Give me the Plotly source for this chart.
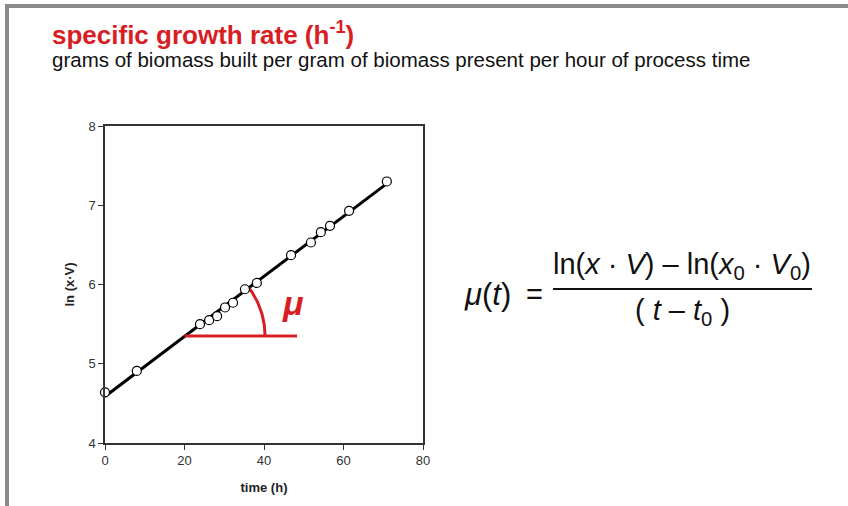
import numpy as np
import plotly.graph_objects as go

# ---- data ----
time_h = [0, 8.0, 23.9, 26.2, 28.2, 30.2, 32.2, 35.2, 38.2, 46.8, 51.8, 54.3, 56.6, 61.4, 70.9]
ln_xV = [4.64, 4.91, 5.50, 5.55, 5.60, 5.71, 5.77, 5.94, 6.02, 6.37, 6.53, 6.66, 6.74, 6.93, 7.30]
x_ticks = [0, 20, 40, 60, 80]
y_ticks = [4, 5, 6, 7, 8]
mu_ref_t = [20.0, 48.3]   # red horizontal reference line span (h)
mu_ref_y = 5.35           # red reference level

RED = "#d81e24"
FONT = "Liberation Sans, Arial, sans-serif"

# plot area in pixels
W, H = 848, 506
L, R, T, B = 105, 423, 126, 443

def px(xp):
    return (xp - L) / (R - L)

def py(yp):
    return (B - yp) / (B - T)

# linear fit through the data
slope, icpt = np.polyfit(time_h, ln_xV, 1)
fit_t = [time_h[0], time_h[-1]]
fit_y = [icpt + slope * t for t in fit_t]

# angle arc (pixel-space circle converted into data units)
sx = (R - L) / 80.0
sy = (B - T) / 4.0
t_c = (mu_ref_y - icpt) / slope
ang = np.arctan(slope * sy / sx)
a = np.linspace(0, ang, 40)
rad = 80
arc_t = t_c + rad * np.cos(a) / sx
arc_y = mu_ref_y + rad * np.sin(a) / sy

fig = go.Figure()
fig.add_trace(go.Scatter(x=fit_t, y=fit_y, mode="lines",
                         line=dict(color="black", width=3), hoverinfo="skip"))
fig.add_trace(go.Scatter(x=mu_ref_t, y=[mu_ref_y, mu_ref_y], mode="lines",
                         line=dict(color=RED, width=3), hoverinfo="skip"))
fig.add_trace(go.Scatter(x=arc_t, y=arc_y, mode="lines",
                         line=dict(color=RED, width=3), hoverinfo="skip"))
fig.add_trace(go.Scatter(x=time_h, y=ln_xV, mode="markers", cliponaxis=False,
                         marker=dict(size=9, color="white",
                                     line=dict(color="black", width=1.2))))

axis_common = dict(showgrid=False, zeroline=False, showline=True, mirror=True,
                   linecolor="#333", linewidth=1.5, ticks="outside", ticklen=5,
                   tickcolor="#333", tickfont=dict(family=FONT, size=13, color="#333"))
fig.update_xaxes(range=[0, 80], tickvals=x_ticks, **axis_common,
                 title=dict(text="<b>time (h)</b>", font=dict(family=FONT, size=13, color="#222"),
                            standoff=16))
fig.update_yaxes(range=[4, 8], tickvals=y_ticks, **axis_common,
                 title=dict(text="<b>ln (x·V)</b>", font=dict(family=FONT, size=13, color="#222"),
                            standoff=11))

ann = []
# title + subtitle
ann.append(dict(xref="paper", yref="paper", x=px(50), y=py(33), xanchor="left", yanchor="middle",
                text="<b>specific growth rate (h<sup>-1</sup>)</b>", showarrow=False,
                font=dict(family=FONT, size=26, color=RED)))
ann.append(dict(xref="paper", yref="paper", x=px(50), y=py(59), xanchor="left", yanchor="middle",
                text="grams of biomass built per gram of biomass present per hour of process time",
                showarrow=False, font=dict(family=FONT, size=20.5, color="#111")))
# mu label
ann.append(dict(xref="x", yref="y", x=47.3, y=5.77, text="<b><i>μ</i></b>", showarrow=False,
                xanchor="center", yanchor="middle",
                font=dict(family=FONT, size=34, color=RED)))
# formula
ann.append(dict(xref="paper", yref="paper", x=px(487), y=py(294), text="<i>μ</i>(<i>t</i>)",
                xanchor="center", yanchor="middle",
                showarrow=False, font=dict(family=FONT, size=31, color="#111")))
ann.append(dict(xref="paper", yref="paper", x=px(534), y=py(294), text="=",
                xanchor="center", yanchor="middle",
                showarrow=False, font=dict(family=FONT, size=29, color="#111")))
ann.append(dict(xref="paper", yref="paper", x=px(682), y=py(266),
                text="ln(<i>x</i> · <i>V</i>) – ln(<i>x</i><sub>0</sub> · <i>V</i><sub>0</sub>)",
                xanchor="center", yanchor="middle",
                showarrow=False, font=dict(family=FONT, size=29, color="#111")))
ann.append(dict(xref="paper", yref="paper", x=px(682), y=py(312),
                text="( <i>t</i> – <i>t</i><sub>0</sub> )",
                xanchor="center", yanchor="middle",
                showarrow=False, font=dict(family=FONT, size=29, color="#111")))

shapes = [
    dict(type="line", xref="paper", yref="paper", x0=px(553), x1=px(812), y0=py(289), y1=py(289),
         line=dict(color="#111", width=2)),
    dict(type="line", xref="paper", yref="paper", x0=px(5), x1=px(848), y0=py(6), y1=py(6),
         line=dict(color="#8a8a8a", width=4)),
    dict(type="line", xref="paper", yref="paper", x0=px(7), x1=px(7), y0=py(4), y1=py(506),
         line=dict(color="#8a8a8a", width=4)),
]

fig.update_layout(width=W, height=H, margin=dict(l=L, r=W - R, t=T, b=H - B),
                  paper_bgcolor="white", plot_bgcolor="white", showlegend=False,
                  annotations=ann, shapes=shapes)
fig.write_html("out.html", config={"displayModeBar": False},
               post_script="document.body.style.margin='0';document.body.style.overflow='hidden';")
